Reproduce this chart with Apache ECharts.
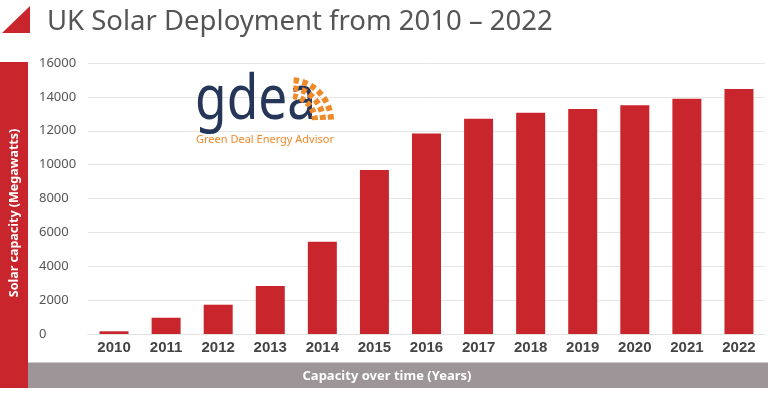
<!DOCTYPE html>
<html>
<head>
<meta charset="utf-8">
<script src="https://cdn.jsdelivr.net/npm/echarts@6/dist/echarts.min.js"></script>
<style>html,body{margin:0;padding:0;background:#fff}#c{width:768px;height:395px}</style>
</head>
<body>
<div id="c"></div>
<script>
const years = ['2010','2011','2012','2013','2014','2015','2016','2017','2018','2019','2020','2021','2022'];
const capacityMW = [160, 960, 1730, 2830, 5450, 9680, 11840, 12710, 13060, 13280, 13500, 13890, 14460];
const yTicks = [0, 2000, 4000, 6000, 8000, 10000, 12000, 14000, 16000];
const titleText = 'UK Solar Deployment from 2010 \u2013 2022';
const yAxisTitle = 'Solar capacity (Megawatts)';
const xAxisTitle = 'Capacity over time (Years)';

const RED = '#c9252c';
const GREY = '#9d9597';
const chart = echarts.init(document.getElementById('c'), null, {renderer: 'canvas'});

// sun rays for logo
const rays = [];
const cx = 290, cy = 121;
const rings = [[22, 28], [30, 36], [38, 44]];
rings.forEach((r, ri) => {
  const n = 5 + ri;
  const span = 88 / n;
  for (let i = 0; i < n; i++) {
    const a0 = (-2 - i * span) * Math.PI / 180;
    const a1 = (-2 - i * span - span * 0.6) * Math.PI / 180;
    rays.push({
      type: 'sector',
      shape: {cx: cx, cy: cy, r0: r[0], r: r[1], startAngle: a1, endAngle: a0},
      style: {fill: '#f0892a'},
      z: 10
    });
  }
});

chart.setOption({
  animation: false,
  grid: {left: 88, right: 3, top: 63, bottom: 61, containLabel: false},
  xAxis: {
    type: 'category',
    data: years,
    axisLine: {show: true, lineStyle: {color: '#e2e2e2', width: 1}},
    axisTick: {show: false},
    axisLabel: {
      color: '#444', fontFamily: 'Liberation Sans Narrow, Liberation Sans', fontWeight: 'bold',
      fontSize: 15, margin: 6
    }
  },
  yAxis: {
    type: 'value',
    min: yTicks[0], max: yTicks[yTicks.length - 1], interval: 2000,
    axisLine: {show: false},
    axisTick: {show: false},
    splitLine: {lineStyle: {color: '#e6e6e6', width: 1}},
    axisLabel: {
      color: '#555', fontFamily: 'Noto Sans', fontSize: 13, align: 'left', margin: 49,
      formatter: function (v) { return String(v); }
    }
  },
  series: [{
    type: 'bar',
    data: capacityMW,
    barWidth: 29,
    itemStyle: {color: RED}
  }],
  graphic: [
    {type: 'polygon', shape: {points: [[2, 33], [30, 33], [30, 6]]}, style: {fill: RED}},
    {type: 'text', left: 47, top: 8, style: {text: titleText, fill: '#555', font: 'normal 27.5px "Noto Sans"'}},
    {type: 'rect', shape: {x: 0, y: 62, width: 28, height: 326}, style: {fill: RED}},
    {type: 'rect', shape: {x: 28, y: 362.5, width: 740, height: 25.5}, style: {fill: GREY}},
    {type: 'text', x: 14, y: 213, rotation: Math.PI / 2,
      style: {text: yAxisTitle, fill: '#fff', font: 'bold 12.5px "Noto Sans"', align: 'center', verticalAlign: 'middle'}},
    {type: 'text', x: 387, y: 376,
      style: {text: xAxisTitle, fill: '#fff', font: 'bold 13px "Noto Sans"', align: 'center', verticalAlign: 'middle'}},
    {type: 'text', x: 195, y: 102, scaleY: 1.25, scaleX: 1.05, z: 10,
      style: {text: 'gdea', fill: '#263659', font: 'normal 49px "Noto Sans"', verticalAlign: 'middle'}},
    {type: 'text', x: 265, y: 140, z: 10,
      style: {text: 'Green Deal Energy Advisor', fill: '#f0892a', font: '11px "Noto Sans"', align: 'center', verticalAlign: 'middle'}}
  ].concat(rays)
});
</script>
</body>
</html>
